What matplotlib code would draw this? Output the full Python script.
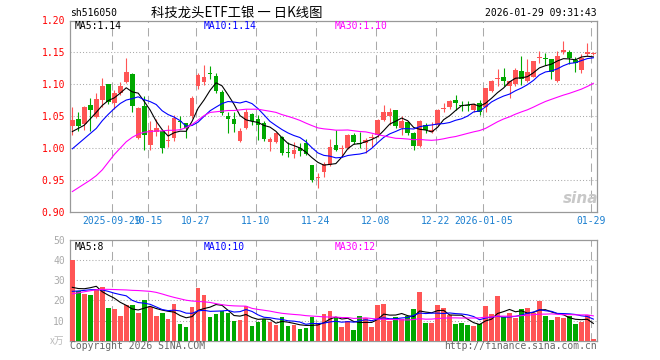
import numpy as np
import matplotlib
matplotlib.use('Agg')
import matplotlib.pyplot as plt

plt.rcParams['font.family'] = ['DejaVu Sans Mono', 'Noto Sans CJK SC']

# 日K线数据（2025-09-18 ~ 2026-01-29）
opens = [1.035, 1.046, 1.038, 1.068, 1.049, 1.076, 1.100, 1.070, 1.087, 1.103,
         1.116, 1.016, 1.066, 1.005, 1.026, 1.027, 1.012, 1.016, 1.043, 1.039,
         1.050, 1.097, 1.103, 1.117, 1.113, 1.088, 1.051, 1.045, 1.011, 1.031,
         1.054, 1.046, 1.040, 1.010, 1.010, 1.018, 0.994, 0.991, 1.000, 1.008,
         0.974, 0.953, 0.963, 0.974, 1.005, 0.998, 1.000, 1.021, 1.008, 1.008,
         1.016, 1.021, 1.044, 1.050, 1.060, 1.032, 1.041, 1.024, 1.003, 1.036,
         1.026, 1.036, 1.062, 1.064, 1.075, 1.068, 1.067, 1.060, 1.070, 1.064,
         1.090, 1.109, 1.111, 1.098, 1.100, 1.121, 1.105, 1.112, 1.141, 1.142,
         1.139, 1.105, 1.150, 1.151, 1.138, 1.123, 1.148, 1.147]
closes = [1.044, 1.035, 1.065, 1.060, 1.077, 1.098, 1.073, 1.086, 1.097, 1.119,
          1.066, 1.063, 1.021, 1.029, 1.032, 1.000, 1.013, 1.047, 1.041, 1.031,
          1.079, 1.115, 1.112, 1.116, 1.090, 1.055, 1.045, 1.038, 1.027, 1.057,
          1.043, 1.037, 1.014, 1.014, 1.024, 0.993, 0.992, 0.997, 0.996, 0.991,
          0.950, 0.955, 0.975, 1.002, 0.997, 1.001, 1.021, 1.010, 1.006, 1.013,
          1.018, 1.044, 1.057, 1.057, 1.035, 1.043, 1.023, 1.004, 1.043, 1.029,
          1.028, 1.060, 1.063, 1.074, 1.070, 1.066, 1.066, 1.069, 1.057, 1.094,
          1.105, 1.110, 1.105, 1.105, 1.123, 1.108, 1.119, 1.136, 1.143, 1.140,
          1.120, 1.144, 1.154, 1.141, 1.133, 1.142, 1.150, 1.149]
highs = [1.064, 1.056, 1.066, 1.078, 1.087, 1.110, 1.101, 1.091, 1.104, 1.141,
         1.117, 1.064, 1.082, 1.043, 1.046, 1.029, 1.037, 1.052, 1.050, 1.040,
         1.081, 1.117, 1.131, 1.128, 1.117, 1.091, 1.057, 1.057, 1.031, 1.061,
         1.055, 1.052, 1.043, 1.018, 1.026, 1.019, 1.010, 1.009, 1.008, 1.014,
         0.974, 0.961, 0.979, 1.014, 1.029, 1.005, 1.022, 1.023, 1.025, 1.016,
         1.022, 1.046, 1.068, 1.063, 1.060, 1.050, 1.043, 1.026, 1.044, 1.039,
         1.041, 1.061, 1.070, 1.076, 1.084, 1.074, 1.074, 1.070, 1.076, 1.095,
         1.107, 1.124, 1.125, 1.106, 1.126, 1.144, 1.139, 1.137, 1.152, 1.149,
         1.139, 1.152, 1.168, 1.154, 1.143, 1.148, 1.164, 1.151]
lows = [1.020, 1.027, 1.028, 1.027, 1.048, 1.065, 1.069, 1.062, 1.083, 1.102,
        1.057, 1.015, 0.997, 0.997, 1.019, 0.992, 1.002, 1.012, 1.031, 1.016,
        1.048, 1.093, 1.099, 1.109, 1.086, 1.052, 1.023, 1.026, 1.009, 1.030,
        1.036, 1.013, 1.011, 0.995, 1.008, 0.990, 0.986, 0.985, 0.987, 0.989,
        0.947, 0.937, 0.955, 0.972, 0.995, 0.986, 0.998, 1.007, 1.000, 0.993,
        1.002, 1.018, 1.042, 1.036, 1.032, 1.021, 1.020, 0.997, 1.002, 1.023,
        1.023, 1.035, 1.056, 1.062, 1.060, 1.058, 1.059, 1.057, 1.052, 1.056,
        1.088, 1.098, 1.098, 1.078, 1.098, 1.099, 1.103, 1.111, 1.133, 1.131,
        1.109, 1.103, 1.147, 1.132, 1.119, 1.118, 1.145, 1.146]
# 成交量（万手）
volumes = [40.1, 24.5, 23.0, 22.5, 25.0, 26.5, 16.1, 15.6, 12.1, 17.5,
           17.5, 13.6, 20.0, 16.7, 12.1, 13.6, 10.6, 18.0, 8.1, 6.6,
           16.6, 26.0, 22.5, 11.6, 13.1, 14.6, 13.6, 9.6, 10.1, 17.1,
           7.1, 9.1, 10.6, 9.1, 7.6, 11.6, 7.1, 7.6, 5.6, 6.1,
           11.6, 8.1, 13.1, 14.6, 11.3, 6.8, 9.8, 5.1, 12.3, 11.4,
           6.8, 17.5, 18.0, 9.8, 11.6, 10.6, 12.1, 15.6, 24.0, 8.8,
           8.8, 17.5, 16.2, 12.6, 8.3, 8.8, 7.8, 7.3, 8.1, 17.1,
           13.1, 22.0, 11.8, 13.6, 11.3, 15.6, 16.2, 13.6, 19.5, 12.1,
           10.1, 11.6, 11.1, 12.1, 8.3, 9.1, 12.6, 0.7]

# 图中开头几天的均线值（依赖更早的数据，直接从图上读）
ma5_head = [1.026, 1.031, 1.036, 1.046]
ma10_head = [0.999, 1.007, 1.015, 1.023, 1.031, 1.043, 1.053, 1.062, 1.070]
ma30_head = [0.932, 0.938, 0.944, 0.950, 0.957, 0.966, 0.978, 0.990, 1.000, 1.010,
             1.017, 1.022, 1.025, 1.026, 1.027, 1.027, 1.028, 1.028, 1.029, 1.032,
             1.037, 1.044, 1.051, 1.056, 1.057, 1.058, 1.059, 1.059, 1.060]
vma5_head = [26.5, 25.9, 25.8, 26.3]
vma10_head = [24.5, 24.7, 25.0, 25.3, 25.4, 25.2, 24.5, 23.6, 22.9]
vma30_head = [23.3, 23.8, 24.3, 24.8, 25.3, 25.5, 25.5, 25.4, 25.3, 25.2,
              25.0, 24.9, 24.7, 24.5, 24.0, 23.2, 22.3, 21.5, 20.8, 20.1,
              19.7, 19.5, 19.3, 19.0, 18.4, 17.9, 17.5, 17.3, 17.2]

date_idx = [7, 13, 21, 31, 41, 51, 61, 69, 87]
date_labels = ['2025-09-29', '10-15', '10-27', '11-10', '11-24', '12-08',
               '12-22', '2026-01-05', '01-29']
price_ticks = [0.90, 0.95, 1.00, 1.05, 1.10, 1.15, 1.20]
vol_ticks = [10, 20, 30, 40, 50]

RED = '#ff5555'
GREEN = '#00a800'
GRID = '#aaaaaa'
FRAME = '#999999'
W, H = 660.0, 360.0


def moving_avg(values, n, head):
    values = np.asarray(values, dtype=float)
    out = np.empty(len(values))
    out[:len(head)] = head
    for i in range(len(head), len(values)):
        out[i] = values[i - n + 1:i + 1].mean()
    return out


def px_axes(fig, left, top, right, bottom):
    return fig.add_axes([left / W, 1 - bottom / H, (right - left) / W, (bottom - top) / H])


def style_axes(ax):
    for s in ax.spines.values():
        s.set_color(FRAME)
        s.set_linewidth(0.9)
    ax.set_xlim(-0.39, 87.61)
    ax.tick_params(axis='both', length=0, labelsize=7, pad=3.6)
    ax.set_xticks([])
    for d in date_idx:
        ax.axvline(d - 0.35, color=GRID, lw=0.75, dashes=(8, 5), zorder=1)


fig = plt.figure(figsize=(6.6, 3.6), dpi=100)
fig.patch.set_facecolor('white')

x = np.arange(len(closes))
o = np.array(opens)
c = np.array(closes)
up = c >= o
colors = [RED if u else GREEN for u in up]

# 主图：K线
ax = px_axes(fig, 70, 20.5, 597, 212)
style_axes(ax)
ax.set_ylim(0.90, 1.20)
ax.set_yticks(price_ticks)
ax.set_yticklabels(['%.2f' % t for t in price_ticks], color='red')
for t in price_ticks[1:-1]:
    ax.axhline(t, color=GRID, lw=0.75, dashes=(1, 2), zorder=1)

ax.vlines(x, lows, highs, colors=colors, lw=0.8, zorder=3)
body = np.maximum(np.abs(c - o), 0.0012)
ax.bar(x, body, bottom=np.minimum(o, c), width=0.78, color=colors, lw=0, zorder=4)

ax.plot(x, moving_avg(closes, 5, ma5_head), color='black', lw=0.8, zorder=5)
ax.plot(x, moving_avg(closes, 10, ma10_head), color='#0000ff', lw=0.8, zorder=5)
ax.plot(x, moving_avg(closes, 30, ma30_head), color='#ff00ff', lw=0.8, zorder=5)

for d, lab in zip(date_idx, date_labels):
    ax.text(d - 0.35, -9 / 191.5, lab, transform=ax.get_xaxis_transform(),
            ha='center', va='center', fontsize=7, color='#1a7fd0')

# 副图：成交量
axv = px_axes(fig, 70, 240, 597, 340.7)
style_axes(axv)
axv.set_ylim(0, 50)
axv.set_yticks(vol_ticks)
axv.set_yticklabels([str(t) for t in vol_ticks], color='#aaaaaa')
for t in vol_ticks[:-1]:
    axv.axhline(t, color=GRID, lw=0.75, dashes=(1, 2), zorder=1)
axv.bar(x, volumes, width=0.78, color=colors, lw=0, zorder=3)
axv.plot(x, moving_avg(volumes, 5, vma5_head), color='black', lw=0.8, zorder=5)
axv.plot(x, moving_avg(volumes, 10, vma10_head), color='#0000ff', lw=0.8, zorder=5)
axv.plot(x, moving_avg(volumes, 30, vma30_head), color='#ff00ff', lw=0.8, zorder=5)


def ftext(px, py, s, **kw):
    fig.text(px / W, 1 - py / H, s, va='center', **kw)


ftext(70, 13, 'sh516050', fontsize=7, color='black')
ftext(151, 12.5, '科技龙头ETF工银 一 日K线图', fontsize=9.6, color='black',
      family=['Noto Sans CJK SC', 'DejaVu Sans'])
ftext(597, 13, '2026-01-29 09:31:43', fontsize=7, color='black', ha='right')

ftext(74.5, 26, 'MA5:1.14', fontsize=7, color='black')
ftext(204, 26, 'MA10:1.14', fontsize=7, color='#0000ff')
ftext(334.5, 26, 'MA30:1.10', fontsize=7, color='#ff00ff')

ftext(74.5, 246.5, 'MA5:8', fontsize=7, color='black')
ftext(204, 246.5, 'MA10:10', fontsize=7, color='#0000ff')
ftext(334.5, 246.5, 'MA30:12', fontsize=7, color='#ff00ff')

ftext(581, 198, 'sina', fontsize=11, color='#c8c8c8', ha='center',
      style='italic', weight='bold', family='DejaVu Sans')
ftext(57, 341, 'x万', fontsize=7, color='#bbbbbb', ha='center',
      family=['Noto Sans CJK SC', 'DejaVu Sans'])
ftext(70, 346, 'Copyright 2026 SINA.COM', fontsize=7, color='#666666')
ftext(597, 346, 'http://finance.sina.com.cn', fontsize=7, color='#666666', ha='right')

fig.savefig('out.png', dpi=100)
